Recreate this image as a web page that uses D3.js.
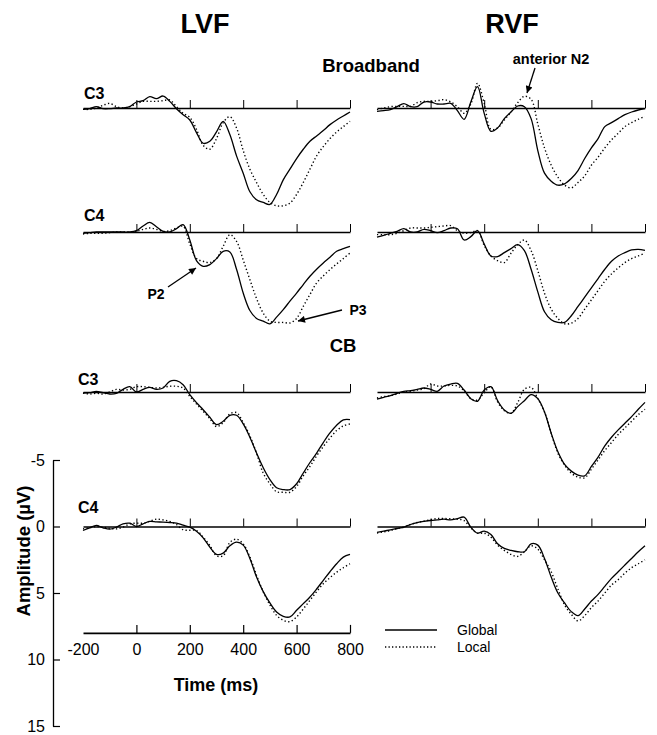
<!DOCTYPE html>
<html><head><meta charset="utf-8">
<script src="https://cdn.jsdelivr.net/npm/d3@7"></script>
<style>
html,body{margin:0;padding:0;background:#fff;}
svg text{font-family:Arial,"Liberation Sans",sans-serif;fill:#000;}
</style></head>
<body><svg id="chart" width="657" height="735"></svg>
<script>
// ---- data (amplitude in µV, positive plotted downward) ----
const times = [-200,-175,-150,-125,-100,-75,-50,-25,0,25,50,75,100,125,150,175,200,225,250,275,300,325,350,375,400,425,450,475,500,525,550,575,600,625,650,675,700,725,750,775,800];
const xTicks = [-200,0,200,400,600,800];
const yTicks = [-5,0,5,10,15];
const fields = ["LVF","RVF"];
const sections = ["Broadband","CB"];
const electrodes = ["C3","C4"];
const conditions = ["Global","Local"];

const lvfBbC3Global = [0.1,0.05,-0.1,0.05,0.05,0,0,-0.1,-0.45,-0.55,-0.85,-0.7,-0.9,-0.5,0.05,0.5,0.9,1.85,2.65,2.5,1.8,1.0,2.0,3.6,4.9,6.3,6.9,7.1,7.25,6.5,5.4,4.6,3.8,3.1,2.5,2.1,1.7,1.25,0.9,0.6,0.3];
const lvfBbC3Local  = [0.1,0.1,0.0,-0.2,-0.35,-0.1,0,-0.1,-0.3,-0.5,-0.5,-0.5,-0.55,-0.6,-0.1,0.4,0.7,1.6,2.8,3.1,2.3,1.1,0.65,1.5,3.2,4.6,5.6,6.5,7.1,7.35,7.35,7.15,6.5,5.6,4.6,3.6,2.9,2.3,1.8,1.4,1.0];
const lvfBbC4Global = [0.1,0.05,0,0,0,0,0,0,-0.1,-0.45,-0.73,-0.4,-0.05,0,-0.25,-0.55,0.6,2.15,2.58,2.45,2.0,1.45,1.5,2.8,4.59,5.9,6.5,6.7,6.9,6.4,5.84,5.2,4.59,3.95,3.33,2.8,2.33,1.9,1.45,1.25,1.08];
const lvfBbC4Local  = [0.15,0.1,0.1,0.1,0.05,0,0,0,-0.05,-0.2,-0.3,-0.2,-0.05,-0.1,-0.3,-0.43,0.9,2.0,2.2,2.3,2.0,1.08,0.2,0.7,2.1,3.58,5.0,6.1,6.7,6.8,6.8,6.84,6.5,5.59,4.7,3.83,3.3,2.83,2.4,2.0,1.58];
const rvfBbC3Global = [0.25,0.2,0.12,-0.1,-0.33,-0.1,-0.1,-0.45,-0.45,-0.3,-0.3,-0.35,0.2,0.85,-0.45,-1.6,0.4,1.75,1.5,0.8,0.3,-0.15,-0.1,0.8,3.2,4.9,5.5,5.8,5.7,5.3,4.7,3.8,3.0,2.3,1.4,1.1,0.8,0.5,0.3,0.15,0.05];
const rvfBbC3Local  = [0.12,0,-0.1,-0.12,-0.12,-0.12,-0.4,-0.5,-0.5,-0.55,-0.63,-0.45,-0.1,0.4,-0.3,-1.85,-0.35,1.6,1.5,0.9,0.3,-0.4,-0.88,-0.65,1.2,3.0,4.3,5.2,5.8,6.0,5.6,5.1,4.3,3.7,3.0,2.4,1.9,1.4,1.1,0.85,0.63];
const rvfBbC4Global = [0.38,0.25,0.1,-0.05,-0.25,0,0,-0.2,-0.1,0.05,-0.1,-0.3,-0.25,0.6,0.35,-0.1,0.9,1.8,1.85,1.55,1.25,0.95,1.4,2.8,4.5,6.0,6.6,6.8,6.8,6.3,5.6,4.9,4.2,3.5,2.8,2.2,1.8,1.55,1.35,1.3,1.38];
const rvfBbC4Local  = [0.2,0.2,0.2,0.1,-0.1,-0.3,-0.3,-0.3,-0.35,-0.4,-0.45,-0.48,-0.1,0.08,0.05,-0.1,1.0,1.8,2.15,2.3,1.6,0.95,0.6,1.4,2.9,4.6,5.8,6.5,6.9,6.85,6.5,5.8,5.1,4.4,3.7,3.15,2.7,2.3,2.0,1.8,1.58];
const lvfCbC3Global = [0.08,0.05,-0.05,0.05,0.15,0.1,-0.2,-0.4,0,-0.2,-0.35,-0.2,-0.3,-0.8,-0.85,-0.55,0.2,0.8,1.33,1.9,2.45,2.2,1.75,1.75,2.4,3.4,4.59,5.7,6.59,7.2,7.34,7.34,6.9,6.09,5.3,4.59,3.8,3.08,2.5,2.1,2.08];
const lvfCbC3Local  = [0.08,0.15,0.1,0.15,0,-0.2,-0.15,-0.2,-0.4,-0.4,-0.35,-0.3,-0.35,-0.43,-0.43,-0.3,0.33,0.9,1.45,2.0,2.6,2.3,1.65,1.55,2.3,3.3,4.6,6.1,6.9,7.5,7.54,7.54,7.1,6.3,5.6,4.8,4.1,3.46,2.9,2.55,2.4];
const rvfCbC3Global = [0.53,0.4,0.28,0.1,-0.05,-0.1,-0.2,-0.3,-0.2,-0.05,-0.45,-0.6,-0.65,-0.15,0.5,0.7,-0.15,-0.4,0.65,1.35,1.6,1.1,0.65,0.2,0.5,1.5,3.1,4.5,5.45,5.95,6.25,6.3,5.6,4.9,4.05,3.4,2.85,2.35,1.85,1.3,0.78];
const rvfCbC3Local  = [0.45,0.35,0.28,0.15,0,-0.05,-0.15,-0.25,-0.6,-0.45,-0.45,-0.5,-0.45,-0.1,0.5,0.6,0.05,-0.4,0.75,1.4,1.6,0.8,-0.2,-0.35,0.5,1.5,3.1,4.6,5.5,6.1,6.4,6.45,5.8,5.1,4.4,3.8,3.2,2.7,2.2,1.7,1.3];
const lvfCbC4Global = [0.3,0.1,-0.08,0.1,0.2,0.05,-0.2,-0.25,0,-0.2,-0.38,-0.35,-0.33,-0.3,-0.25,-0.1,0.05,0.35,0.85,1.55,2.1,2.0,1.45,1.18,1.4,2.4,3.8,4.9,5.75,6.43,6.75,6.8,6.3,5.8,5.3,4.7,4.05,3.4,2.8,2.3,2.1];
const lvfCbC4Local  = [0.18,0.1,0,0.05,0.15,0.18,0.05,-0.2,-0.25,-0.25,-0.4,-0.55,-0.5,-0.38,-0.15,0.25,0.28,0.3,0.8,1.43,2.2,2.2,1.2,0.95,1.3,2.3,3.68,4.9,5.9,6.68,7.05,7.15,6.8,6.2,5.55,4.9,4.3,3.85,3.43,3.1,2.8];
const rvfCbC4Global = [0.45,0.35,0.25,0.15,0.05,-0.15,-0.3,-0.38,-0.45,-0.5,-0.55,-0.5,-0.6,-0.7,0.05,0.5,0.35,0.6,1.3,1.65,1.8,1.9,1.9,1.3,1.4,2.4,3.8,5.0,5.75,6.4,6.7,6.2,5.6,5.1,4.5,3.9,3.4,2.9,2.4,1.9,1.45];
const rvfCbC4Local  = [0.5,0.4,0.3,0.15,0.05,-0.15,-0.3,-0.4,-0.5,-0.6,-0.6,-0.58,-0.55,-0.45,0.1,0.5,0.5,0.8,1.4,1.8,2.1,2.25,1.9,1.45,1.7,2.5,3.4,4.7,5.9,6.6,7.1,6.7,6.1,5.6,5.0,4.4,4.0,3.5,3.1,2.8,2.5];

// ---- layout ----
const svg = d3.select("#chart");
const pxPer5uV = 66.5;
const xScales = {
  LVF: d3.scaleLinear().domain([-200,800]).range([83,350]),
  RVF: d3.scaleLinear().domain([-200,800]).range([377,645])
};
const zeroY = {"Broadband-C3":108,"Broadband-C4":232,"CB-C3":392,"CB-C4":526.5};
const ampScale = z => d3.scaleLinear().domain([0,5]).range([z, z+pxPer5uV]);
const plainNum = d => String(d);

const panels = [
  {field:"LVF",sec:"Broadband",el:"C3",g:lvfBbC3Global,l:lvfBbC3Local},
  {field:"LVF",sec:"Broadband",el:"C4",g:lvfBbC4Global,l:lvfBbC4Local},
  {field:"RVF",sec:"Broadband",el:"C3",g:rvfBbC3Global,l:rvfBbC3Local},
  {field:"RVF",sec:"Broadband",el:"C4",g:rvfBbC4Global,l:rvfBbC4Local},
  {field:"LVF",sec:"CB",el:"C3",g:lvfCbC3Global,l:lvfCbC3Local},
  {field:"LVF",sec:"CB",el:"C4",g:lvfCbC4Global,l:lvfCbC4Local},
  {field:"RVF",sec:"CB",el:"C3",g:rvfCbC3Global,l:rvfCbC3Local},
  {field:"RVF",sec:"CB",el:"C4",g:rvfCbC4Global,l:rvfCbC4Local}
];

panels.forEach(p => {
  const x = xScales[p.field];
  const z = zeroY[p.sec+"-"+p.el];
  const y = ampScale(z);
  const ax = d3.axisBottom(x).tickValues(xTicks.slice(1)).tickFormat("").tickSizeInner(-8).tickSizeOuter(0);
  const ga = svg.append("g").attr("transform",`translate(0,${z})`).call(ax);
  ga.select(".domain").attr("stroke","#000").attr("stroke-width",1.7);
  ga.selectAll(".tick line").attr("stroke","#000").attr("stroke-width",1);
  const line = d3.line().x((d,i)=>x(times[i])).y(d=>y(d)).curve(d3.curveCatmullRom.alpha(0.5));
  svg.append("path").attr("d",line(p.g)).attr("fill","none").attr("stroke","#000").attr("stroke-width",1.3);
  svg.append("path").attr("d",line(p.l)).attr("fill","none").attr("stroke","#000").attr("stroke-width",1.4).attr("stroke-dasharray","1.3,2.4");
});

// electrode labels (left column only)
const elLabelPos = [
  {t:electrodes[0],x:84,y:99},{t:electrodes[1],x:84,y:221},{t:electrodes[0],x:78,y:385},{t:electrodes[1],x:78,y:513}
];
elLabelPos.forEach(d=>svg.append("text").attr("x",d.x).attr("y",d.y).attr("font-size",16).attr("font-weight","bold").text(d.t));

// titles
svg.append("text").attr("x",205).attr("y",33).attr("text-anchor","middle").attr("font-size",27).attr("font-weight","bold").text(fields[0]);
svg.append("text").attr("x",512).attr("y",33).attr("text-anchor","middle").attr("font-size",27).attr("font-weight","bold").text(fields[1]);
svg.append("text").attr("x",371).attr("y",72).attr("text-anchor","middle").attr("font-size",18.5).attr("font-weight","bold").text(sections[0]);
svg.append("text").attr("x",343).attr("y",352).attr("text-anchor","middle").attr("font-size",18.5).attr("font-weight","bold").text(sections[1]);

// annotations with arrows
const defs = svg.append("defs");
defs.append("marker").attr("id","ah").attr("viewBox","0 0 10 10").attr("refX",10).attr("refY",5)
  .attr("markerWidth",9).attr("markerHeight",7).attr("markerUnits","userSpaceOnUse").attr("orient","auto")
  .append("path").attr("d","M0,0L10,5L0,10z").attr("fill","#000");
const annots = [
  {t:"anterior N2",tx:551,ty:64,x1:535,y1:68,x2:527,y2:93,size:14.5},
  {t:"P2",tx:156,ty:299,x1:168,y1:287,x2:196,y2:268,size:14},
  {t:"P3",tx:358,ty:315,x1:342,y1:310,x2:298,y2:321,size:14}
];
annots.forEach(a=>{
  svg.append("text").attr("x",a.tx).attr("y",a.ty).attr("text-anchor","middle").attr("font-size",a.size).attr("font-weight","bold").text(a.t);
  svg.append("line").attr("x1",a.x1).attr("y1",a.y1).attr("x2",a.x2).attr("y2",a.y2).attr("stroke","#000").attr("stroke-width",1.3).attr("marker-end","url(#ah)");
});

// amplitude axis (left, bottom)
const yAxisScale = d3.scaleLinear().domain([-5,15]).range([526.5-pxPer5uV, 526.5+3*pxPer5uV]);
const gy = svg.append("g").attr("transform","translate(53,0)")
  .call(d3.axisLeft(yAxisScale).tickValues(yTicks).tickFormat(plainNum).tickSizeInner(-7).tickSizeOuter(0).tickPadding(8));
gy.select(".domain").attr("stroke","#000").attr("stroke-width",1.3);
gy.selectAll(".tick line").attr("stroke","#000").attr("stroke-width",1.2);
gy.selectAll(".tick text").attr("font-size",16).attr("font-family","Arial, 'Liberation Sans', sans-serif").attr("fill","#000");
svg.append("text").attr("transform","translate(30,551) rotate(-90)").attr("text-anchor","middle")
  .attr("font-size",18.5).attr("font-weight","bold").text("Amplitude (µV)");

// time axis (bottom)
const xAxisY = yAxisScale(8);
const gx = svg.append("g").attr("transform",`translate(0,${xAxisY})`)
  .call(d3.axisBottom(xScales.LVF).tickValues(xTicks).tickFormat(plainNum).tickSizeInner(-8).tickSizeOuter(0).tickPadding(11));
gx.select(".domain").attr("stroke","#000").attr("stroke-width",1.7);
gx.selectAll(".tick line").attr("stroke","#000").attr("stroke-width",1.2).filter(d=>d===-200).remove();
gx.selectAll(".tick text").attr("font-size",16).attr("font-family","Arial, 'Liberation Sans', sans-serif").attr("fill","#000");
svg.append("text").attr("x",216).attr("y",691).attr("text-anchor","middle").attr("font-size",18).attr("font-weight","bold").text("Time (ms)");

// legend
const legend = svg.append("g");
conditions.forEach((c,i)=>{
  const yy = 630 + i*17;
  legend.append("line").attr("x1",385).attr("x2",437).attr("y1",yy).attr("y2",yy).attr("stroke","#000")
    .attr("stroke-width",i===0?1.4:1.3).attr("stroke-dasharray",i===0?null:"1.3,2.2");
  legend.append("text").attr("x",457).attr("y",yy+4.5).attr("font-size",14).text(c);
});
</script></body></html>
